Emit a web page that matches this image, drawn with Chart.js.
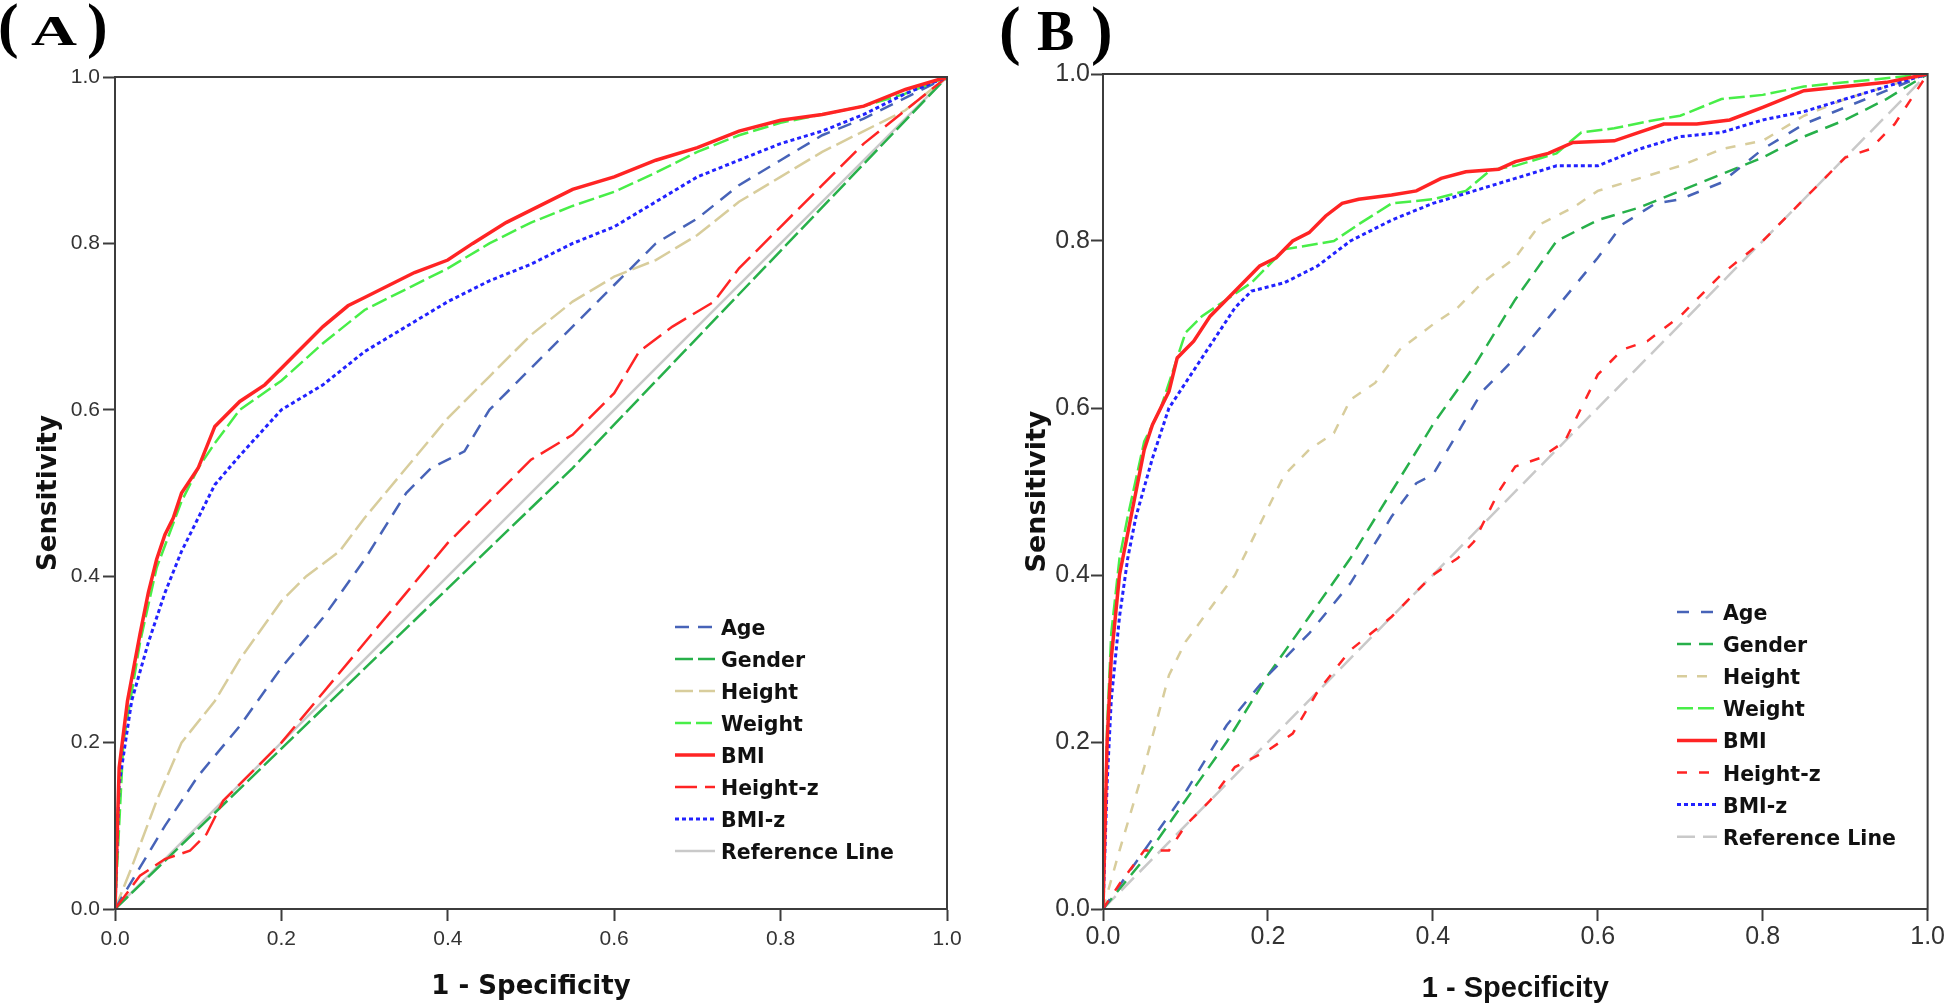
<!DOCTYPE html>
<html>
<head>
<meta charset="utf-8">
<script src="https://cdn.jsdelivr.net/npm/chart.js@4.4.1/dist/chart.umd.min.js"></script>
<style>
  html, body { margin: 0; padding: 0; background: #fff; }
  body { width: 1946px; height: 1008px; position: relative; overflow: hidden; }
  .panel { position: absolute; top: 0; width: 973px; height: 1008px; }
  #panelA { left: 0; }
  #panelB { left: 973px; }
  svg.tags { position: absolute; left: 0; top: 0; pointer-events: none; }
</style>
</head>
<body>
<div class="panel" id="panelA"><canvas id="rocA" width="973" height="1008"></canvas></div>
<div class="panel" id="panelB"><canvas id="rocB" width="973" height="1008"></canvas></div>
<svg class="tags" width="1946" height="1008" font-family="'Liberation Serif', 'Times New Roman', serif" font-weight="bold" fill="#000">
  <text x="-2" y="46" font-size="62">(</text>
  <text x="31" y="45" font-size="42" textLength="46" lengthAdjust="spacingAndGlyphs">A</text>
  <text x="87" y="46" font-size="62">)</text>
  <text x="999" y="52" font-size="65">(</text>
  <text x="1037" y="50" font-size="56">B</text>
  <text x="1091" y="52" font-size="65">)</text>
</svg>
<script>
// axis ticks (both axes, both panels)
const axisTicks = [0, 0.2, 0.4, 0.6, 0.8, 1.0];
const tickLabels = ['0.0', '0.2', '0.4', '0.6', '0.8', '1.0'];
const seriesNames = ['Age', 'Gender', 'Height', 'Weight', 'BMI', 'Height-z', 'BMI-z', 'Reference Line'];

// Panel A: [1 - specificity, sensitivity]
const ageA = [[0,0],[0.03,0.05],[0.06,0.1],[0.1,0.16],[0.15,0.22],[0.2,0.29],[0.25,0.35],[0.3,0.42],[0.35,0.5],[0.38,0.53],[0.42,0.55],[0.45,0.6],[0.5,0.65],[0.55,0.7],[0.6,0.75],[0.65,0.8],[0.7,0.83],[0.75,0.87],[0.8,0.9],[0.85,0.93],[0.9,0.95],[0.95,0.975],[1,1]];
const genderA = [[0,0],[0.55,0.53],[1,1]];
const heightA = [[0,0],[0.02,0.05],[0.05,0.13],[0.08,0.2],[0.12,0.25],[0.15,0.3],[0.2,0.37],[0.23,0.4],[0.27,0.43],[0.3,0.47],[0.35,0.53],[0.4,0.59],[0.45,0.64],[0.5,0.69],[0.55,0.73],[0.6,0.76],[0.65,0.78],[0.7,0.81],[0.75,0.85],[0.8,0.88],[0.85,0.91],[0.9,0.935],[0.95,0.96],[1,1]];
const weightA = [[0,0],[0.01,0.2],[0.03,0.32],[0.05,0.41],[0.08,0.49],[0.1,0.53],[0.12,0.56],[0.15,0.6],[0.2,0.635],[0.25,0.68],[0.3,0.72],[0.35,0.745],[0.4,0.77],[0.45,0.8],[0.5,0.825],[0.55,0.845],[0.6,0.862],[0.65,0.885],[0.7,0.91],[0.75,0.93],[0.8,0.945],[0.85,0.955],[0.9,0.965],[0.95,0.98],[1,1]];
const bmiA = [[0,0],[0.005,0.17],[0.015,0.25],[0.03,0.33],[0.04,0.38],[0.05,0.42],[0.06,0.45],[0.07,0.47],[0.08,0.5],[0.1,0.53],[0.12,0.58],[0.15,0.61],[0.18,0.63],[0.2,0.65],[0.22,0.67],[0.25,0.7],[0.28,0.725],[0.3,0.735],[0.33,0.75],[0.36,0.765],[0.4,0.78],[0.43,0.8],[0.47,0.825],[0.5,0.84],[0.55,0.865],[0.6,0.88],[0.65,0.9],[0.7,0.915],[0.75,0.935],[0.8,0.948],[0.85,0.955],[0.9,0.965],[0.95,0.985],[1,1]];
const heightZA = [[0,0],[0.03,0.04],[0.06,0.06],[0.09,0.07],[0.11,0.09],[0.13,0.13],[0.15,0.15],[0.2,0.2],[0.25,0.26],[0.3,0.32],[0.35,0.38],[0.4,0.44],[0.45,0.49],[0.5,0.54],[0.55,0.57],[0.6,0.62],[0.63,0.67],[0.67,0.7],[0.72,0.73],[0.75,0.77],[0.8,0.82],[0.85,0.87],[0.9,0.92],[0.95,0.96],[1,1]];
const bmiZA = [[0,0],[0.005,0.15],[0.02,0.25],[0.04,0.32],[0.06,0.38],[0.08,0.43],[0.1,0.47],[0.12,0.51],[0.15,0.545],[0.2,0.6],[0.25,0.63],[0.3,0.67],[0.35,0.7],[0.4,0.73],[0.45,0.755],[0.5,0.775],[0.55,0.8],[0.6,0.82],[0.65,0.85],[0.7,0.88],[0.75,0.9],[0.8,0.92],[0.85,0.935],[0.9,0.955],[0.95,0.98],[1,1]];
const refA = [[0,0],[1,1]];

// Panel B
const ageB = [[0,0],[0.05,0.07],[0.1,0.14],[0.15,0.22],[0.2,0.28],[0.25,0.33],[0.3,0.39],[0.35,0.47],[0.38,0.51],[0.4,0.52],[0.43,0.57],[0.46,0.62],[0.5,0.66],[0.55,0.72],[0.6,0.78],[0.63,0.82],[0.67,0.845],[0.7,0.85],[0.75,0.87],[0.8,0.91],[0.85,0.94],[0.9,0.96],[0.95,0.98],[1,1]];
const genderB = [[0,0],[0.05,0.06],[0.1,0.13],[0.15,0.2],[0.2,0.28],[0.25,0.35],[0.3,0.42],[0.35,0.5],[0.4,0.58],[0.45,0.65],[0.5,0.73],[0.55,0.8],[0.6,0.825],[0.65,0.84],[0.7,0.86],[0.75,0.88],[0.8,0.9],[0.85,0.925],[0.9,0.945],[0.95,0.97],[1,1]];
const heightB = [[0,0],[0.02,0.07],[0.05,0.17],[0.08,0.28],[0.1,0.32],[0.13,0.36],[0.16,0.4],[0.18,0.44],[0.2,0.48],[0.22,0.52],[0.25,0.55],[0.28,0.57],[0.3,0.61],[0.33,0.63],[0.36,0.67],[0.4,0.7],[0.43,0.72],[0.46,0.75],[0.5,0.78],[0.53,0.82],[0.57,0.84],[0.6,0.86],[0.65,0.875],[0.7,0.89],[0.75,0.91],[0.8,0.92],[0.85,0.95],[0.9,0.97],[0.95,0.985],[1,1]];
const weightB = [[0,0],[0.005,0.22],[0.01,0.33],[0.02,0.42],[0.03,0.47],[0.05,0.56],[0.07,0.6],[0.09,0.66],[0.1,0.69],[0.12,0.71],[0.15,0.73],[0.18,0.75],[0.2,0.77],[0.22,0.79],[0.25,0.795],[0.28,0.8],[0.31,0.82],[0.35,0.845],[0.4,0.85],[0.44,0.86],[0.47,0.885],[0.5,0.89],[0.55,0.905],[0.58,0.93],[0.62,0.935],[0.67,0.945],[0.7,0.95],[0.75,0.97],[0.8,0.975],[0.85,0.985],[0.9,0.99],[1,1]];
const bmiB = [[0,0],[0.005,0.2],[0.01,0.3],[0.02,0.4],[0.03,0.45],[0.04,0.5],[0.05,0.55],[0.06,0.58],[0.08,0.62],[0.09,0.66],[0.1,0.67],[0.11,0.68],[0.13,0.71],[0.15,0.73],[0.17,0.75],[0.19,0.77],[0.21,0.78],[0.23,0.8],[0.25,0.81],[0.27,0.83],[0.29,0.845],[0.31,0.85],[0.35,0.855],[0.38,0.86],[0.41,0.875],[0.44,0.883],[0.48,0.886],[0.5,0.895],[0.54,0.905],[0.57,0.918],[0.62,0.92],[0.65,0.93],[0.68,0.94],[0.72,0.94],[0.76,0.945],[0.8,0.96],[0.85,0.98],[0.9,0.985],[0.95,0.99],[1,1]];
const heightZB = [[0,0],[0.02,0.03],[0.05,0.07],[0.08,0.07],[0.1,0.1],[0.13,0.13],[0.16,0.17],[0.2,0.19],[0.23,0.21],[0.26,0.26],[0.3,0.31],[0.35,0.35],[0.4,0.4],[0.43,0.42],[0.45,0.44],[0.48,0.5],[0.5,0.53],[0.53,0.54],[0.56,0.56],[0.6,0.64],[0.63,0.67],[0.66,0.68],[0.7,0.71],[0.75,0.76],[0.8,0.8],[0.85,0.85],[0.9,0.9],[0.93,0.91],[0.96,0.94],[1,1]];
const bmiZB = [[0,0],[0.005,0.15],[0.01,0.25],[0.02,0.35],[0.03,0.42],[0.04,0.47],[0.06,0.54],[0.08,0.6],[0.1,0.63],[0.12,0.66],[0.14,0.69],[0.16,0.72],[0.18,0.74],[0.22,0.75],[0.26,0.77],[0.3,0.8],[0.35,0.825],[0.4,0.845],[0.45,0.86],[0.5,0.875],[0.55,0.89],[0.6,0.89],[0.65,0.91],[0.7,0.925],[0.75,0.93],[0.8,0.945],[0.85,0.955],[0.9,0.97],[0.95,0.985],[1,1]];
const refB = [[0,0],[1,1]];

const seriesColors = ['#4763b8', '#27b04a', '#d8cd9c', '#48ee48', '#ff2424', '#ff2424', '#2222ff', '#c9c9c9'];

// draws the closed frame round the plot area
const frameBox = {
    id: 'frameBox',
    afterDatasetsDraw(chart) {
        const { ctx, chartArea: a } = chart;
        ctx.save();
        ctx.strokeStyle = '#3c3c3c';
        ctx.lineWidth = 2;
        ctx.strokeRect(a.left, a.top, a.right - a.left, a.bottom - a.top);
        ctx.restore();
    },
};

// legend drawn inside the plot, lower right
const insetLegend = {
    id: 'insetLegend',
    afterDraw(chart, args, o) {
        const ctx = chart.ctx;
        chart.data.datasets.forEach((ds, i) => {
            const y = o.top + i * o.rowGap;
            ctx.save();
            ctx.strokeStyle = ds.borderColor;
            ctx.lineWidth = ds.borderWidth;
            ctx.setLineDash(ds.legendDash || ds.borderDash || []);
            ctx.beginPath();
            ctx.moveTo(o.left, y);
            ctx.lineTo(o.left + o.sampleWidth, y);
            ctx.stroke();
            ctx.setLineDash([]);
            ctx.fillStyle = '#111';
            ctx.font = o.font;
            ctx.textBaseline = 'alphabetic';
            ctx.fillText(ds.label, o.left + o.sampleWidth + o.gap, y + 8);
            ctx.restore();
        });
    },
};

function buildDatasets(series, dashes, widths, orders) {
    return series.map((pts, i) => ({
        label: seriesNames[i],
        data: pts.map(([x, y]) => ({ x: x, y: y })),
        borderColor: seriesColors[i],
        backgroundColor: seriesColors[i],
        borderWidth: widths[i],
        borderDash: dashes[i],
        pointRadius: 0,
        tension: 0,
        fill: false,
        order: orders[i],
    }));
}

function makeRoc(canvasId, datasets, look) {
    const axisBase = {
        type: 'linear',
        min: 0,
        max: 1,
        afterBuildTicks: (scale) => {
            scale.ticks = axisTicks.map((v) => ({ value: v }));
        },
        grid: {
            drawOnChartArea: false,
            drawTicks: true,
            tickLength: 12,
            tickWidth: 2,
            tickColor: '#3c3c3c',
        },
        border: { display: true, color: '#3c3c3c', width: 2 },
    };

    return new Chart(document.getElementById(canvasId), {
        type: 'line',
        data: { datasets: datasets },
        options: {
            responsive: false,
            animation: false,
            devicePixelRatio: 1,
            layout: { padding: look.padding },
            scales: {
                x: {
                    ...axisBase,
                    position: 'bottom',
                    afterFit: (scale) => { scale.height = look.xAxisHeight; },
                    ticks: {
                        padding: look.xTickPad,
                        color: '#333',
                        font: { family: look.tickFamily, size: look.tickSize },
                        callback: (v) => tickLabels[axisTicks.indexOf(v)],
                    },
                    title: {
                        display: true,
                        text: '1 - Specificity',
                        color: '#111',
                        font: { family: look.titleFamily, size: look.xTitleSize, weight: 'bold' },
                        padding: { top: 0, bottom: look.xTitlePad },
                    },
                },
                y: {
                    ...axisBase,
                    position: 'left',
                    afterFit: (scale) => { scale.width = look.yAxisWidth; },
                    ticks: {
                        padding: look.yTickPad,
                        color: '#333',
                        font: { family: look.tickFamily, size: look.tickSize },
                        callback: (v) => tickLabels[axisTicks.indexOf(v)],
                    },
                    title: {
                        display: true,
                        text: 'Sensitivity',
                        color: '#111',
                        font: { family: look.yTitleFamily, size: look.yTitleSize, weight: 'bold' },
                        padding: { top: look.yTitlePad, bottom: 0 },
                    },
                },
            },
            plugins: {
                legend: { display: false },
                tooltip: { enabled: false },
                insetLegend: look.legend,
            },
        },
        plugins: [frameBox, insetLegend],
    });
}

const widthsAll = [2.5, 2.5, 2.5, 2.5, 3.5, 2.5, 3, 2.5];
const ordersAll = [4, 6, 5, 2, 0, 3, 1, 7];

const dashesA = [[14, 9], [18, 5], [18, 6], [16, 5], [], [22, 8], [4, 3], []];
const dashesB = [[12, 12], [14, 8], [10, 10], [16, 5], [], [10, 12], [4, 3], [18, 8]];

makeRoc('rocA',
    buildDatasets([ageA, genderA, heightA, weightA, bmiA, heightZA, bmiZA, refA], dashesA, widthsAll, ordersAll),
    {
        padding: { top: 77, right: 26, left: 0, bottom: 0 },
        xAxisHeight: 99,
        yAxisWidth: 115,
        tickFamily: "'Liberation Sans', Arial, sans-serif",
        tickSize: 21,
        xTickPad: 6,
        yTickPad: 3,
        titleFamily: "'DejaVu Sans', sans-serif",
        yTitleFamily: "'DejaVu Sans', sans-serif",
        xTitleSize: 26,
        yTitleSize: 26,
        xTitlePad: 5,
        yTitlePad: 34,
        legend: { left: 675, top: 627, rowGap: 32, sampleWidth: 40, gap: 6, font: "bold 20.5px 'DejaVu Sans', sans-serif" },
    });

makeRoc('rocB',
    buildDatasets([ageB, genderB, heightB, weightB, bmiB, heightZB, bmiZB, refB], dashesB, widthsAll, ordersAll),
    {
        padding: { top: 74, right: 18, left: 0, bottom: 0 },
        xAxisHeight: 99,
        yAxisWidth: 130,
        tickFamily: "'Liberation Sans', Arial, sans-serif",
        tickSize: 25,
        xTickPad: 1,
        yTickPad: 1,
        titleFamily: "'Liberation Sans', Arial, sans-serif",
        yTitleFamily: "'DejaVu Sans', sans-serif",
        xTitleSize: 29,
        yTitleSize: 27,
        xTitlePad: 2,
        yTitlePad: 49,
        legend: { left: 1677 - 973, top: 612, rowGap: 32.1, sampleWidth: 40, gap: 6, font: "bold 20.5px 'DejaVu Sans', sans-serif" },
    });
</script>
</body>
</html>
